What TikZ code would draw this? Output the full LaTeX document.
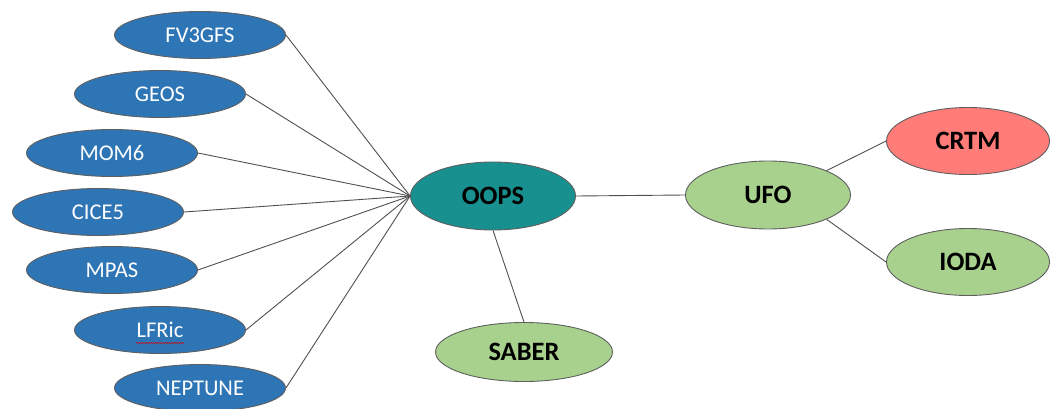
\documentclass[tikz,border=0pt]{standalone}
\usepackage{fontspec}
\setmainfont{Carlito}
\usetikzlibrary{shapes.geometric,decorations.pathmorphing}
\definecolor{mblue}{HTML}{2E75B6}
\definecolor{mteal}{HTML}{17908F}
\definecolor{mgreen}{HTML}{A9D18E}
\definecolor{mred}{HTML}{FF7C78}
\definecolor{medge}{HTML}{5F5F5F}
\definecolor{mline}{HTML}{505050}
\tikzset{
  base/.style={ellipse, draw=medge, line width=0.9pt, inner sep=0pt},
  model/.style={base, fill=mblue, text=white, minimum width=171pt, minimum height=47pt, font=\fontsize{22.5}{25}\selectfont},
  core/.style={base, minimum width=165pt, minimum height=68pt, font=\fontsize{26.5}{29}\selectfont\bfseries},
  link/.style={draw=mline, line width=0.9pt},
}
\begin{document}
\begin{tikzpicture}[x=1pt,y=1pt]
\useasboundingbox (0,0) rectangle (1054,-409);
% models
\node[model] (fv3) at (200,-35) {FV3GFS};
\node[model] (geos) at (160,-94) {GEOS};
\node[model] (mom) at (112,-153) {MOM6};
\node[model] (cice) at (98,-212) {CICE5};
\node[model] (mpas) at (112,-270) {MPAS};
\node[model] (lfric) at (160,-330) {LFRic};
\node[model] (nep) at (200,-388) {NEPTUNE};
% core
\node[core, fill=mteal] (oops) at (493,-196) {OOPS};
\node[core, fill=mgreen] (ufo) at (768,-195) {UFO};
\node[core, fill=mred, minimum width=163pt, minimum height=67pt] (crtm) at (968,-141) {CRTM};
\node[core, fill=mgreen, minimum width=163pt, minimum height=67pt] (ioda) at (968,-262) {IODA};
\node[core, fill=mgreen, minimum width=177pt, minimum height=59pt] (saber) at (524,-352) {SABER};
% spell-check underline
\coordinate (ul1) at ([xshift=-24pt,yshift=-13pt]lfric.center);
\coordinate (ul2) at ([xshift=24pt,yshift=-13pt]lfric.center);
\draw[red!85!black, line width=0.5pt, decorate, decoration={snake, amplitude=0.6pt, segment length=2.5pt}] (ul1) -- (ul2);
% connectors
\foreach \m in {fv3,geos,mom,cice,mpas,lfric,nep}
  \draw[link] (\m.east) -- (oops.west);
\draw[link] (oops.east) -- (ufo.west);
\draw[link] (oops.south) -- (saber.north);
\draw[link] (ufo.north east) -- (crtm.west);
\draw[link] (ufo.south east) -- (ioda.west);
\end{tikzpicture}
\end{document}
